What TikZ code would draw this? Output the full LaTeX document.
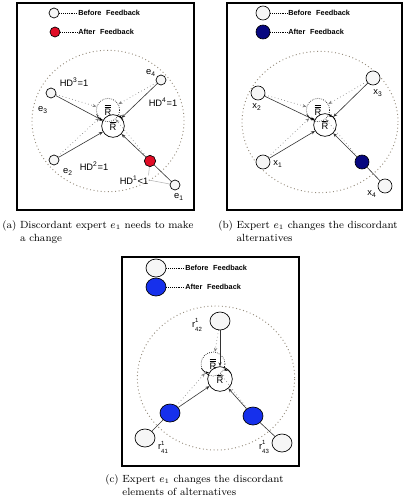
\documentclass[tikz,border=0pt]{standalone}
\usepackage{fontspec}
\newfontfamily\arialf{Liberation Sans}
\usetikzlibrary{arrows.meta,shapes.geometric}
\definecolor{fbred}{RGB}{225,12,38}
\definecolor{fbnavy}{RGB}{8,8,128}
\definecolor{fbblue}{RGB}{22,48,236}
\definecolor{fbwhite}{RGB}{246,246,246}
\definecolor{ringc}{RGB}{150,140,125}
\tikzset{
  enode/.style={circle, draw, fill=fbwhite, line width=0.5pt, inner sep=0pt, minimum size=7.5pt},
  bnode/.style={circle, draw, fill=fbwhite, line width=0.5pt, inner sep=0pt, minimum size=10.5pt},
  cnode/.style={ellipse, draw, fill=fbwhite, line width=0.5pt, inner sep=0pt, minimum width=15pt, minimum height=13.5pt},
  rsol/.style={circle, draw, line width=0.5pt, inner sep=0pt, minimum size=17pt, font=\arialf\fontsize{7}{8}\selectfont},
  rdot/.style={circle, draw, densely dotted, line width=0.5pt, inner sep=0pt, minimum size=17.5pt, font=\arialf\fontsize{7}{8}\selectfont},
  lbl/.style={font=\arialf\fontsize{7}{8}\selectfont, inner sep=0pt},
  legtxt/.style={font=\arialf\bfseries\fontsize{5.5}{6}\selectfont, anchor=west, inner sep=0pt},
  ring/.style={dotted, line width=0.7pt, ringc},
  frame/.style={line width=1.3pt},
  sarr/.style={-{Stealth[length=3pt,width=2.4pt]}, line width=0.45pt, black!80},
  darr/.style={-{Stealth[length=3pt,width=2.4pt]}, dotted, line width=0.5pt, gray},
  rarr/.style={-{Stealth[length=2.5pt,width=2pt]}, line width=0.4pt},
  captxt/.style={anchor=north west, inner sep=0pt, font=\fontsize{7.8}{9.6}\selectfont},
}
\newcommand{\Rone}{$\overline{\hbox{\arialf R}}$}
\newcommand{\Rtwo}{$\overline{\overline{\hbox{\arialf R}}}$}
\newcommand{\rlab}[1]{r\raisebox{-2.6pt}{\fontsize{4.5}{5}\selectfont\shortstack[l]{1\\#1}}}

\begin{document}
\begin{tikzpicture}[x=0.75pt, y=-0.75pt]
  \useasboundingbox (0,0) rectangle (406,500);

  %% === Panel (a): discordant expert ===
  \draw[frame] (17,3) rectangle (194,210);
  % Legend
  \node[enode] (wa) at (54,13) {};
  \node[enode, fill=fbred] (ra) at (55,32) {};
  \node[legtxt] (wat) at (78,13) {Before\hspace{2pt} Feedback};
  \node[legtxt] (rat) at (78,32) {After\hspace{2pt} Feedback};
  \draw[densely dotted] (wa) -- (wat);
  \draw[densely dotted] (ra) -- (rat);

  \draw[ring] (108,121) ellipse [x radius=57pt, y radius=53pt];

  % Collective preferences
  \node[rsol] (Rsa) at (113,126) {\Rone};
  \node[rdot] (Rda) at (108,110) {\Rtwo};

  % Experts
  \foreach \n/\p in {e3/{(51,93)}, e4/{(161,80)}, e2/{(54,160)}, e1/{(175,185)}}
    \node[enode] (\n) at \p {};
  \node[enode, fill=fbred, minimum size=8.5pt] (ra1) at (150,161) {};

  \foreach \n in {e3,e4,e2,ra1} {
    \draw[darr] (\n) -- (Rda);
    \draw[sarr] (\n) -- (Rsa);
  }
  \draw[line width=0.45pt, black!80] (e1) -- (ra1);
  \draw[rarr] (Rda.200) to[bend right=30] (Rsa.150);
  \draw[rarr] (Rsa.30) to[bend right=30] (Rda.330);

  % Labels
  \node[lbl] (le4) at (151,73) {e\textsubscript{4}};
  \node[lbl] (le3) at (43,110) {e\textsubscript{3}};
  \node[lbl] (le2) at (68,172) {e\textsubscript{2}};
  \node[lbl] (le1) at (179,197) {e\textsubscript{1}};
  \node[lbl] (hd3) at (74,82) {HD\textsuperscript{3}=1};
  \node[lbl] (hd4) at (163,102) {HD\textsuperscript{4}=1};
  \node[lbl] (hd2) at (94,166) {HD\textsuperscript{2}=1};
  \node[lbl] (hd1) at (134,180) {HD\textsuperscript{1}<1};
  \draw[gray!60, line width=0.4pt] (hd1.north east) -- (ra1);
  \draw[gray!60, line width=0.4pt] (hd1.east) -- (e1);

  %% === Panel (b): discordant alternatives ===
  \draw[frame] (227,3) rectangle (402,210);
  % Legend
  \node[bnode] (wb) at (263,13) {};
  \node[bnode, fill=fbnavy] (nb) at (263,32) {};
  \node[legtxt] (wbt) at (288,13) {Before\hspace{2pt} Feedback};
  \node[legtxt] (nbt) at (288,32) {After\hspace{2pt} Feedback};
  \draw[densely dotted] (wb) -- (wbt);
  \draw[densely dotted] (nb) -- (nbt);

  \draw[ring] (320,122) ellipse [x radius=58.5pt, y radius=53pt];

  \node[rsol] (Rsb) at (325,125) {\Rone};
  \node[rdot] (Rdb) at (318,110) {\Rtwo};

  \foreach \n/\p in {x2/{(258,93)}, x3/{(373,78)}, x1/{(263,162)}, x4/{(385,186)}}
    \node[bnode] (\n) at \p {};
  \node[bnode, fill=fbnavy] (nv) at (362,162) {};

  \foreach \n in {x2,x3,x1,nv} {
    \draw[darr] (\n) -- (Rdb);
    \draw[sarr] (\n) -- (Rsb);
  }
  \draw[line width=0.45pt, black!80] (x4) -- (nv);
  \draw[rarr] (Rdb.200) to[bend right=30] (Rsb.150);
  \draw[rarr] (Rsb.30) to[bend right=30] (Rdb.330);

  \node[lbl] (lx3) at (378,93) {x\textsubscript{3}};
  \node[lbl] (lx2) at (257,107) {x\textsubscript{2}};
  \node[lbl] (lx1) at (278,164) {x\textsubscript{1}};
  \node[lbl] (lx4) at (372,194) {x\textsubscript{4}};

  %% === Panel (c): discordant elements ===
  \draw[frame] (122,257) rectangle (299,466);
  % Legend
  \node[cnode] (wc) at (156,268) {};
  \node[cnode, fill=fbblue] (bc) at (156,287) {};
  \node[legtxt] (wct) at (185,268) {Before\hspace{2pt} Feedback};
  \node[legtxt] (bct) at (185,287) {After\hspace{2pt} Feedback};
  \draw[densely dotted] (wc) -- (wct);
  \draw[densely dotted] (bc) -- (bct);

  \draw[ring] (216,378) ellipse [x radius=59pt, y radius=54pt];

  \node[rsol, minimum size=18.5pt] (Rsc) at (220,379) {\Rone};
  \node[rdot, minimum size=18pt] (Rdc) at (213,364) {\Rtwo};

  \foreach \n/\p in {r42/{(220,321)}, wl/{(145,438)}, wr/{(282,443)}}
    \node[cnode] (\n) at \p {};
  \node[cnode, fill=fbblue] (bl) at (170,413) {};
  \node[cnode, fill=fbblue] (br) at (253,416) {};

  \foreach \n in {r42,bl,br} {
    \draw[darr] (\n) -- (Rdc);
    \draw[sarr] (\n) -- (Rsc);
  }
  \draw[line width=0.45pt, black!80] (wl) -- (bl);
  \draw[line width=0.45pt, black!80] (wr) -- (br);
  \draw[rarr] (Rdc.200) to[bend right=30] (Rsc.150);
  \draw[rarr] (Rsc.30) to[bend right=30] (Rdc.330);

  \node[lbl] (lr42) at (197,325) {\rlab{42}};
  \node[lbl] (lr41) at (163,447) {\rlab{41}};
  \node[lbl] (lr43) at (264,447) {\rlab{43}};

  %% === Captions ===
  \node[captxt] (capa) at (2,219) {\begin{tabular}{@{}l@{\ }l@{}}(a) & Discordant expert $e_1$ needs to make\\ & a change\end{tabular}};
  \node[captxt] (capb) at (218,219) {\begin{tabular}{@{}l@{\ }l@{}}(b) & Expert $e_1$ changes the discordant\\ & alternatives\end{tabular}};
  \node[captxt] (capc) at (105,473) {\begin{tabular}{@{}l@{\ }l@{}}(c) & Expert $e_1$ changes the discordant\\ & elements of alternatives\end{tabular}};
\end{tikzpicture}
\end{document}
